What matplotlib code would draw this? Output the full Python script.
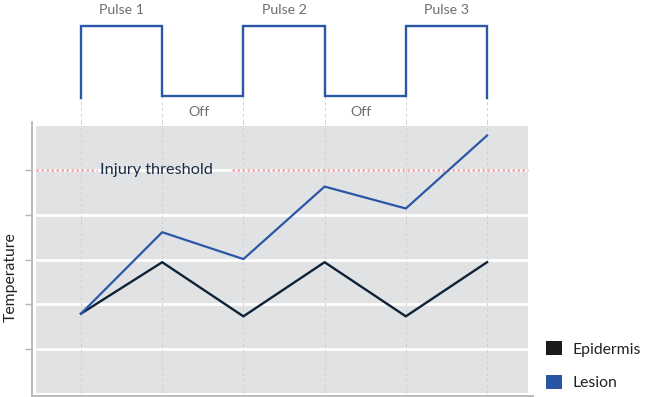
import matplotlib
matplotlib.use("Agg")
import matplotlib.pyplot as plt
from matplotlib.patches import Rectangle, Patch
import numpy as np

plt.rcParams['font.family'] = ['Lato', 'DejaVu Sans']

# ---- data ----
time_points = [0, 1, 2, 3, 4, 5]
epidermis = [1.79, 2.94, 1.73, 2.94, 1.73, 2.94]
lesion = [1.79, 3.61, 3.01, 4.63, 4.14, 5.77]
injury_threshold = 5.0
pulse_states = [1, 0, 1, 0, 1]          # per interval: 1 = on, 0 = off
pulse_labels = ["Pulse 1", "Off", "Pulse 2", "Off", "Pulse 3"]
y_ticks = [1, 2, 3, 4, 5]
series_names = ["Epidermis", "Lesion"]

# ---- colors ----
C_LESION = "#2b57a7"
C_EPI = "#0f2236"
C_PANEL = "#e1e2e4"
C_SPINE = "#b4b4b4"
C_VGRID = "#d0d0d3"
C_THRESH = "#f4a3a6"
C_GRAYTXT = "#6e6e6e"

W, H = 666, 397
fig = plt.figure(figsize=(W / 100, H / 100), dpi=100)

xlim = (-0.603, 5.566)

# ---- main axes ----
ax = fig.add_axes([32 / W, 1 / H, 501 / W, 274 / H])
ax.set_xlim(*xlim)
ax.set_ylim(-0.05, 6.073)
ax.set_facecolor("white")
px0, py0, pw, ph = 0.008, 0.011, 0.982, 0.974
ax.add_patch(Rectangle((px0, py0), pw, ph, transform=ax.transAxes,
                       facecolor=C_PANEL, edgecolor="none", zorder=0))

for yt in y_ticks:
    ax.axhline(yt, xmin=px0, xmax=px0 + pw, color="white", lw=2.0, zorder=1)

for xt in time_points:
    ax.axvline(xt, ymin=py0, ymax=1, color=C_VGRID, lw=0.7,
               ls=(0, (3, 3)), zorder=1.5)

# threshold (dotted, with a gap around the label)
ax.axhline(injury_threshold, xmin=px0, xmax=0.13, color=C_THRESH, lw=1.8,
           ls=(0, (1, 1)), zorder=2)
ax.axhline(injury_threshold, xmin=0.399, xmax=px0 + pw, color=C_THRESH, lw=1.8,
           ls=(0, (1, 1)), zorder=2)
ax.text(0.23, injury_threshold, "Injury threshold", ha="left", va="center",
        fontsize=11.7, color="#1b2c46", zorder=4)

ax.plot(time_points, epidermis, color=C_EPI, lw=1.7, zorder=3)
ax.plot(time_points, lesion, color=C_LESION, lw=1.6, zorder=3)

for s in ["top", "right"]:
    ax.spines[s].set_visible(False)
for s in ["left", "bottom"]:
    ax.spines[s].set_color(C_SPINE)
    ax.spines[s].set_linewidth(1.3)
ax.set_xticks([])
ax.set_yticks(y_ticks)
ax.set_yticklabels([])
ax.tick_params(axis="y", length=5, width=1, color=C_SPINE)
ax.set_ylabel("Temperature", fontsize=11.3, color="#222222")
ax.yaxis.set_label_coords(-0.028, 0.434)

# ---- pulse axes ----
axp = fig.add_axes([32 / W, 275 / H, 501 / W, 122 / H])
axp.set_xlim(*xlim)
axp.set_ylim(-0.371, 1.371)
axp.axis("off")

px, py = [time_points[0]], [-0.03]
for i, st in enumerate(pulse_states):
    px += [time_points[i], time_points[i + 1]]
    py += [st, st]
px.append(time_points[-1])
py.append(-0.03)
axp.plot(px, py, color=C_LESION, lw=1.7, solid_joinstyle="miter", zorder=3)

for xt in time_points:
    axp.plot([xt, xt], [0, -0.371], color=C_VGRID, lw=0.7,
             ls=(0, (3, 3)), zorder=1)

for i, (st, lab) in enumerate(zip(pulse_states, pulse_labels)):
    xc = (time_points[i] + time_points[i + 1]) / 2
    if st:
        yc, dx = 1.23, 0.0
    else:
        yc, dx = -0.23, -0.05
    axp.text(xc + dx, yc, lab, ha="center", va="center", fontsize=10.2,
             color=C_GRAYTXT)

# ---- legend ----
handles = [Patch(facecolor="#1a1a1a", edgecolor="none"),
           Patch(facecolor="#2a55a5", edgecolor="none")]
fig.legend(handles, series_names, loc="lower left",
           bbox_to_anchor=(546 / W, 7 / H), frameon=False, fontsize=11.3,
           handlelength=1.0, handleheight=1.0, handletextpad=0.7,
           labelspacing=1.15, borderpad=0, borderaxespad=0, labelcolor="#222222")

fig.savefig("out.png", dpi=100)
